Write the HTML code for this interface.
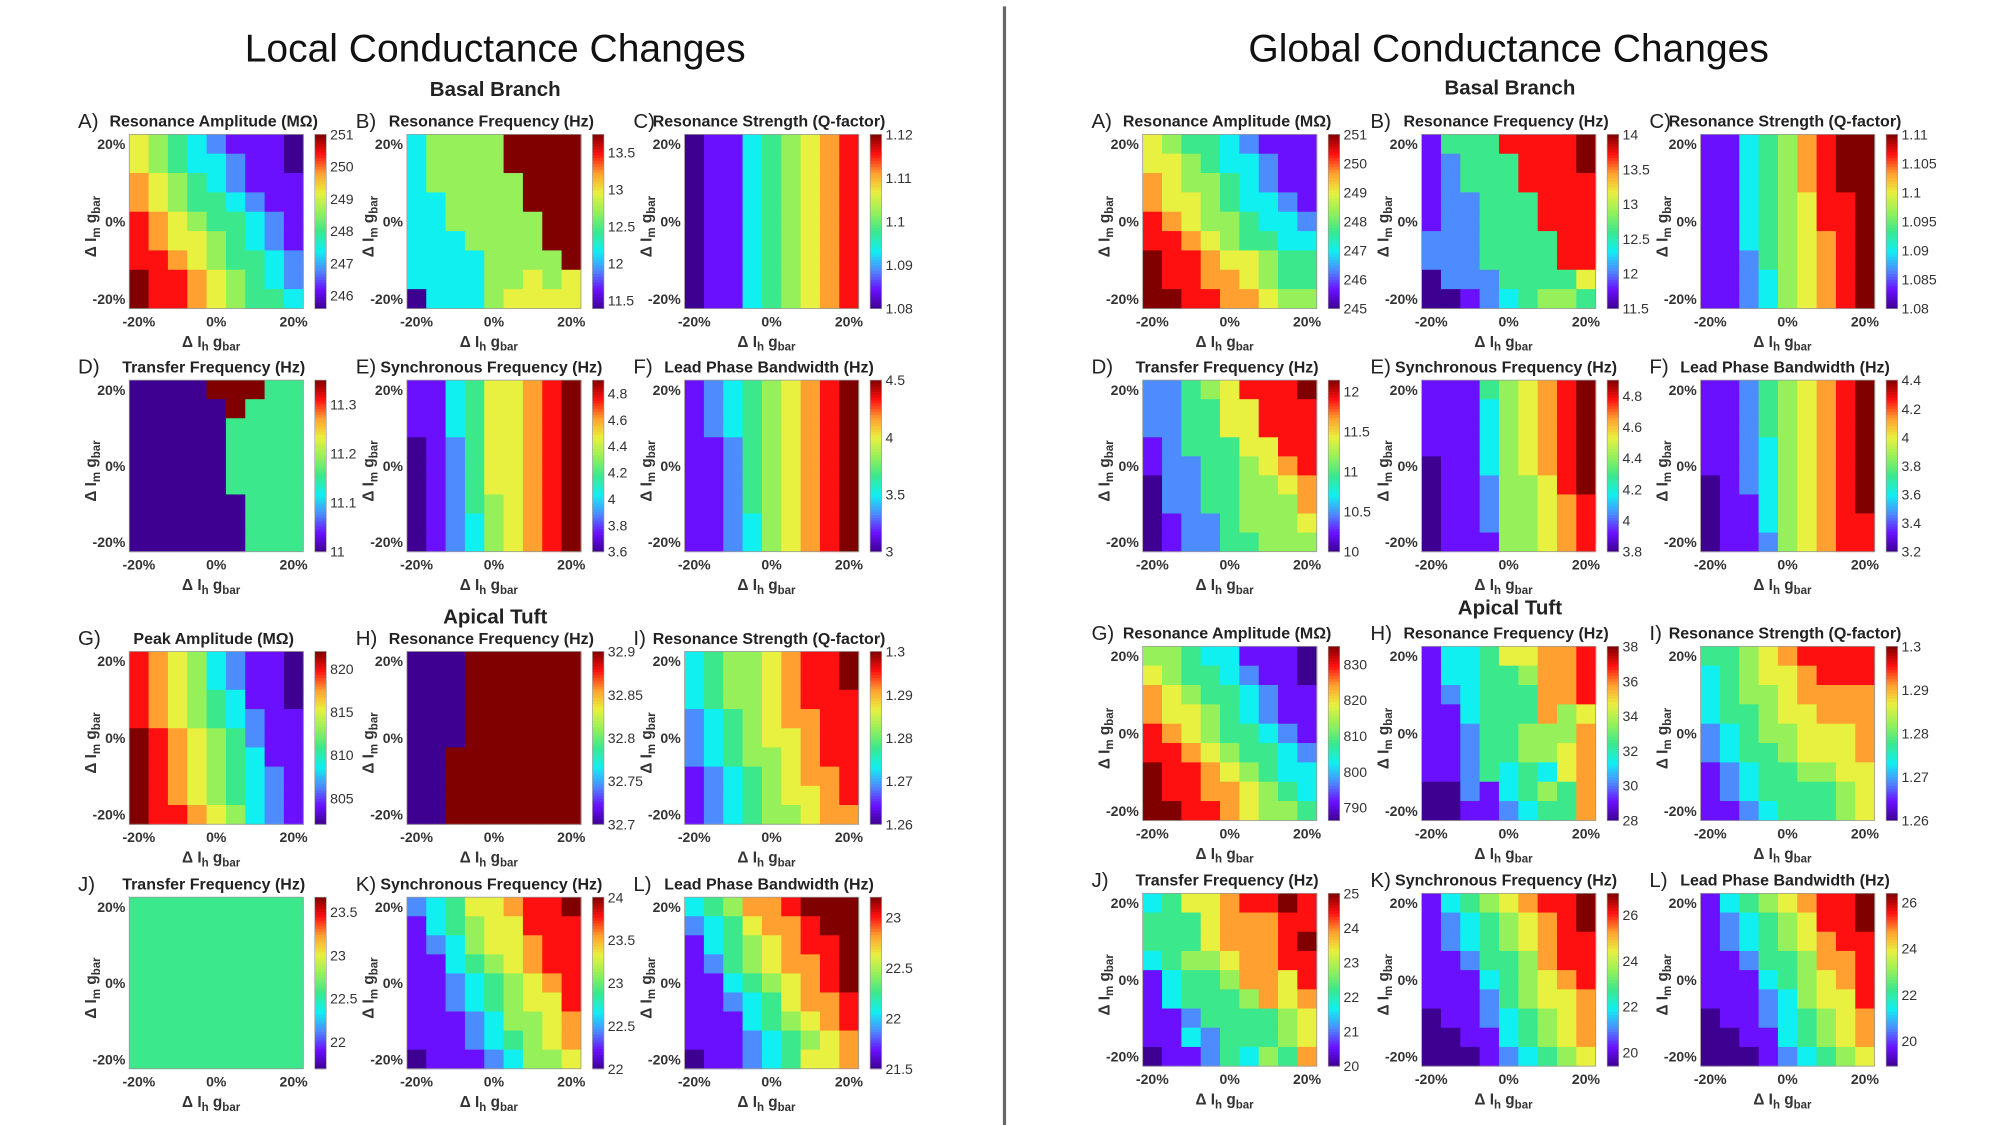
<!DOCTYPE html>
<html><head><meta charset="utf-8"><title>Conductance Changes</title>
<style>
html,body{margin:0;padding:0;background:#fff;}
svg{display:block;font-family:"Liberation Sans",sans-serif;}
</style></head>
<body>
<svg id="fig" width="2000" height="1125" viewBox="0 0 1563 879" preserveAspectRatio="none" xmlns="http://www.w3.org/2000/svg">
<rect x="0" y="0" width="1563" height="879" fill="#fff"/>
<line x1="785" y1="5" x2="785" y2="879" stroke="#666" stroke-width="2.5"/>
<text x="387" y="48" font-size="30.5" text-anchor="middle" fill="#111">Local Conductance Changes</text>
<text x="1179" y="48" font-size="30.5" text-anchor="middle" fill="#111">Global Conductance Changes</text>
<text x="387" y="75" font-size="16" font-weight="bold" text-anchor="middle" fill="#222">Basal Branch</text>
<text x="1180" y="74" font-size="16" font-weight="bold" text-anchor="middle" fill="#222">Basal Branch</text>
<text x="387" y="487" font-size="16" font-weight="bold" text-anchor="middle" fill="#222">Apical Tuft</text>
<text x="1180" y="480" font-size="16" font-weight="bold" text-anchor="middle" fill="#222">Apical Tuft</text>
<g id="panels"></g>
</svg>
<script>
// ---- Data: color levels (0..9), rows top (+20%) to bottom (-20%) ----
const localA=["654321110","654332110","765432111","765443211","876544321","876654321","887654432","988765432","988765443"];
const localB=["355559999","355559999","355555999","335555999","335555599","333555599","333355559","333355656","033356666"];
const localC=["011345678","011345678","011345678","011345678","011345678","011345678","011345678","011345678","011345678"];
const localD=["000099944","000009444","000004444","000004444","000004444","000004444","000000444","000000444","000000444"];
const localE=["113466789","113466789","113466789","012466789","012466789","012466789","012456789","012356789","012356789"];
const localF=["123456789","123456789","123456789","112456789","112456789","112456789","112456789","112356789","112356789"];
const localG=["876532110","876532110","876543110","876543211","987654211","987654311","987654321","987654321","988765321"];
const localH=["000999999","000999999","000999999","000999999","000999999","009999999","009999999","009999999","009999999"];
const localI=["345567889","345567889","345567888","234567788","234566788","234556788","123456778","123456678","123455677"];
const localJ=["444444444","444444444","444444444","444444444","444444444","444444444","444444444","444444444","444444444"];
const localK=["234667889","134566888","123566788","113456788","112345678","112345668","111235567","111234567","011123556"];
const localL=["345778999","234677899","134567889","124567789","113456789","112346778","111345678","111234567","011234667"];
const globalA=["654432111","665433211","765543211","766543321","876554332","887654433","988766544","988776544","998877655"];
const globalB=["144488889","124448889","124448888","122444888","122444888","222444488","222444488","022244446","001234554"];
const globalC=["113457899","113457899","113457899","113456889","113456889","113456789","112456789","112356789","112356789"];
const globalD=["224568889","224466888","224466888","124446688","122445678","022445567","022445557","012245556","012244555"];
const globalE=["111456789","111356789","111356789","111356789","011356789","011255689","011255678","011255678","011155678"];
const globalF=["112456789","112456789","112456789","112356789","112356789","012356789","011356789","011356788","011256788"];
const globalG=["554331110","654432110","765443211","766543211","876544321","887654432","988765433","988776543","998876554"];
const globalH=["133466778","133445778","123444778","113444756","112445557","112445567","112434367","002134547","001123447"];
const globalI=["445678888","345667888","345567777","344566777","234556667","234456667","123445566","123444456","112344456"];
const globalJ=["346678898","444677788","444677789","345567788","134457768","134445767","112444456","113244456","011243547"];
const globalK=["134567889","123456789","123456788","112445788","111345678","111245667","011234567","001134567","000123456"];
const globalL=["134567889","123456889","123456788","112445778","111345678","111235668","011234567","001134567","000123456"];

// ---- Colorbar ranges and tick labels ----
const localLo=[245.6,11.39,1.08,11,3.6,3,802,32.7,1.26,21.69,22,21.5];
const localHi=[251,13.74,1.12,11.35,4.9,4.5,822,32.9,1.3,23.67,24,23.2];
const localTicks=[[246,247,248,249,250,251],[11.5,12,12.5,13,13.5],[1.08,1.09,1.1,1.11,1.12],[11,11.1,11.2,11.3],[3.6,3.8,4,4.2,4.4,4.6,4.8],[3,3.5,4,4.5],[805,810,815,820],[32.7,32.75,32.8,32.85,32.9],[1.26,1.27,1.28,1.29,1.3],[22,22.5,23,23.5],[22,22.5,23,23.5,24],[21.5,22,22.5,23]];
const globalLo=[245,11.5,1.08,10,3.8,3.2,786.4,28,1.26,20,19.4,18.9];
const globalHi=[251,14,1.11,12.14,4.9,4.4,835,38,1.3,25,26.94,26.4];
const globalTicks=[[245,246,247,248,249,250,251],[11.5,12,12.5,13,13.5,14],[1.08,1.085,1.09,1.095,1.1,1.105,1.11],[10,10.5,11,11.5,12],[3.8,4,4.2,4.4,4.6,4.8],[3.2,3.4,3.6,3.8,4,4.2,4.4],[790,800,810,820,830],[28,30,32,34,36,38],[1.26,1.27,1.28,1.29,1.3],[20,21,22,23,24,25],[20,22,24,26],[20,22,24,26]];
const letters=["A","B","C","D","E","F","G","H","I","J","K","L"];
const localTitles=["Resonance Amplitude (MΩ)","Resonance Frequency (Hz)","Resonance Strength (Q-factor)","Transfer Frequency (Hz)","Synchronous Frequency (Hz)","Lead Phase Bandwidth (Hz)","Peak Amplitude (MΩ)","Resonance Frequency (Hz)","Resonance Strength (Q-factor)","Transfer Frequency (Hz)","Synchronous Frequency (Hz)","Lead Phase Bandwidth (Hz)"];
const globalTitles=["Resonance Amplitude (MΩ)","Resonance Frequency (Hz)","Resonance Strength (Q-factor)","Transfer Frequency (Hz)","Synchronous Frequency (Hz)","Lead Phase Bandwidth (Hz)","Resonance Amplitude (MΩ)","Resonance Frequency (Hz)","Resonance Strength (Q-factor)","Transfer Frequency (Hz)","Synchronous Frequency (Hz)","Lead Phase Bandwidth (Hz)"];
const axisTicks=["-20%","0%","20%"];
const localGrids=[localA,localB,localC,localD,localE,localF,localG,localH,localI,localJ,localK,localL];
const globalGrids=[globalA,globalB,globalC,globalD,globalE,globalF,globalG,globalH,globalI,globalJ,globalK,globalL];

// ---- Layout ----
const NS="http://www.w3.org/2000/svg";
const W=136;
const localX=[101,318,535], globalX=[893,1111,1329];
const localY=[105,297,509,701], globalY=[105,297,505,698];
const localH_=[136,134,135,134], globalH_=[136,134,136,135];
const stops=[[0,[61,0,144]],[1/9,[106,16,255]],[2/9,[77,140,255]],[3/9,[16,240,240]],[4/9,[60,232,140]],[5/9,[150,240,90]],[6/9,[232,240,64]],[7/9,[255,160,48]],[8/9,[255,16,16]],[1,[128,0,0]]];
function cmap(t){t=Math.max(0,Math.min(1,t));for(let i=1;i<stops.length;i++){if(t<=stops[i][0]){const a=stops[i-1],b=stops[i];const f=(t-a[0])/(b[0]-a[0]);const c=a[1].map((v,k)=>Math.round(v+(b[1][k]-v)*f));return `rgb(${c[0]},${c[1]},${c[2]})`;}}return "rgb(128,0,0)";}
function mk(tag,attrs,parent,text){const e=document.createElementNS(NS,tag);for(const k in attrs)e.setAttribute(k,attrs[k]);if(text!==undefined)e.textContent=text;parent.appendChild(e);return e;}
const root=document.getElementById("panels");

function axisLabel(parent,x,y,sub,rot){
  const t=mk("text",{x:x,y:y,"font-size":12,"font-weight":"bold","text-anchor":"middle",fill:"#333"},parent);
  if(rot)t.setAttribute("transform",`rotate(-90 ${x} ${y})`);
  mk("tspan",{},t,"Δ I");
  mk("tspan",{"font-size":9,dy:3},t,sub);
  mk("tspan",{dy:-3},t," g");
  mk("tspan",{"font-size":9,dy:3},t,"bar");
  return t;
}

function drawPanel(side,i,grid,lo,hi,ticks,title){
  const col=i%3,row=Math.floor(i/3);
  const x0=(side==="local"?localX:globalX)[col];
  const y0=(side==="local"?localY:globalY)[row];
  const H=(side==="local"?localH_:globalH_)[row];
  const g=mk("g",{},root);
  
  
  const nr=grid.length,nc=grid[0].length;
  const cw=W/nc,ch=H/nr;
  const xs=c=>x0+c*cw, ys=r=>y0+r*ch;
  const valueOf=L=>lo+(L/9)*(hi-lo);
  const colorOf=v=>cmap((v-lo)/(hi-lo));
  for(let r=0;r<nr;r++)for(let c=0;c<nc;c++){
    const v=valueOf(+grid[r][c]);
    const cell=mk("rect",{x:xs(c).toFixed(2),y:ys(r).toFixed(2),width:(cw+0.4).toFixed(2),height:(ch+0.4).toFixed(2),fill:colorOf(v)},g);
    
    
  }
  mk("rect",{x:x0,y:y0,width:W,height:H,fill:"none",stroke:"#999","stroke-width":0.6},g);
  const tt=mk("text",{x:x0+W/2-2,y:y0-6,"font-size":12.5,"font-weight":"bold","text-anchor":"middle",fill:"#222"},g,title);
  
  
  const lt=mk("text",{x:x0-40,y:y0-5,"font-size":16,fill:"#222"},g,letters[i]+")");
  
  
  const tpos=[0,0.5,1];
  for(let k=0;k<3;k++){
    const tx=x0+cw/2+tpos[k]*(W-cw);
    const xl=mk("text",{x:tx,y:y0+H+14,"font-size":11,"font-weight":"bold","text-anchor":"middle",fill:"#333"},g,axisTicks[k]);
    
    
    const ty=y0+H-ch/2-tpos[k]*(H-ch);
    const yl=mk("text",{x:x0-3,y:ty+4,"font-size":11,"font-weight":"bold","text-anchor":"end",fill:"#333"},g,axisTicks[k]);
    
    
  }
  const xa=axisLabel(g,x0+W/2-4,y0+H+30,"h",false);
  
  
  const ya=axisLabel(g,x0-26,y0+H/2+4,"m",true);
  
  
  const bx=x0+W+9,bw=9,N=60;
  const cb=mk("g",{},g);
  
  
  for(let s=0;s<N;s++){
    mk("rect",{x:bx,y:(y0+H-(s+1)*H/N).toFixed(2),width:bw,height:(H/N+0.4).toFixed(2),fill:cmap((s+0.5)/N)},cb);
  }
  mk("rect",{x:bx,y:y0,width:bw,height:H,fill:"none",stroke:"#999","stroke-width":0.5},cb);
  const cy=v=>y0+H-(v-lo)/(hi-lo)*H;
  for(const t of ticks){
    const yy=cy(t);
    const lab=mk("text",{x:bx+bw+3,y:(yy+4).toFixed(2),"font-size":11,fill:"#333"},cb,String(t));
    
    
  }
}
for(let i=0;i<12;i++){
  drawPanel("local",i,localGrids[i],localLo[i],localHi[i],localTicks[i],localTitles[i]);
  drawPanel("global",i,globalGrids[i],globalLo[i],globalHi[i],globalTicks[i],globalTitles[i]);
}
</script>
</body></html>
